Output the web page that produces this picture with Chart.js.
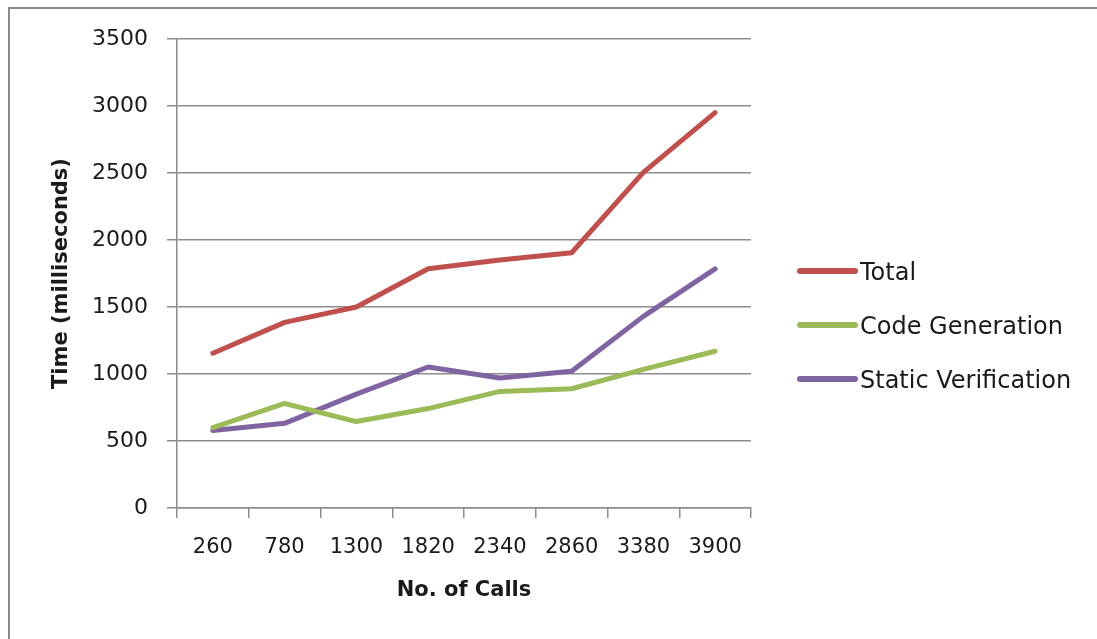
<!DOCTYPE html>
<html>
<head>
<meta charset="utf-8">
<script src="https://cdn.jsdelivr.net/npm/chart.js@4.4.1/dist/chart.umd.min.js"></script>
<style>
  html, body { margin: 0; padding: 0; background: #ffffff; overflow: hidden; }
  #wrap { width: 1097px; height: 639px; position: relative; }
</style>
</head>
<body>
<div id="wrap"><canvas id="chart" width="1097" height="639"></canvas></div>
<script>
// Number of calls per run
const callCounts = ['260', '780', '1300', '1820', '2340', '2860', '3380', '3900'];

// Timings in milliseconds
const totalTime = [1155, 1385, 1500, 1785, 1850, 1905, 2505, 2950];
const codeGenerationTime = [600, 780, 645, 742, 870, 890, 1035, 1170];
const staticVerificationTime = [578, 632, 850, 1052, 970, 1020, 1430, 1785];

// Y axis range
const yMin = 0;
const yMax = 3500;
const yStep = 500;

const seriesNames = ['Total', 'Code Generation', 'Static Verification'];
const seriesColors = ['#C0504D', '#9BBB59', '#8064A2'];

const FONT = "'DejaVu Sans', sans-serif";
const GRID = '#8c8c8c';
const TEXT = '#1a1a1a';

// White page with a thin frame along the top and left edges
const framePlugin = {
  id: 'frame',
  beforeDraw(chart) {
    const ctx = chart.ctx;
    ctx.save();
    ctx.fillStyle = '#ffffff';
    ctx.fillRect(0, 0, chart.width, chart.height);
    ctx.strokeStyle = '#8a8a8a';
    ctx.lineWidth = 2;
    ctx.beginPath();
    ctx.moveTo(9, chart.height);
    ctx.lineTo(9, 8);
    ctx.lineTo(chart.width, 8);
    ctx.stroke();
    ctx.restore();
  }
};

// Legend to the right of the plot: a short thick line sample followed by the label
const sideLegend = {
  id: 'sideLegend',
  afterDraw(chart) {
    const ctx = chart.ctx;
    const area = chart.chartArea;
    const x0 = area.right + 46;
    const x1 = x0 + 61;
    const firstY = 271;
    const gap = 54;
    ctx.save();
    chart.data.datasets.forEach((ds, i) => {
      const y = firstY + i * gap;
      ctx.strokeStyle = ds.borderColor;
      ctx.lineWidth = 6;
      ctx.lineCap = 'round';
      ctx.beginPath();
      ctx.moveTo(x0 + 3, y);
      ctx.lineTo(x1 - 3, y);
      ctx.stroke();
      ctx.fillStyle = TEXT;
      ctx.font = "24px " + FONT;
      ctx.textAlign = 'left';
      ctx.textBaseline = 'alphabetic';
      ctx.fillText(ds.label, x1 + 2, y + 9);
    });
    ctx.restore();
  }
};

const seriesData = [totalTime, codeGenerationTime, staticVerificationTime];

new Chart(document.getElementById('chart'), {
  type: 'line',
  data: {
    labels: callCounts,
    datasets: seriesData.map((values, i) => ({
      label: seriesNames[i],
      data: values,
      borderColor: seriesColors[i],
      backgroundColor: seriesColors[i],
      borderWidth: 5,
      borderJoinStyle: 'round',
      borderCapStyle: 'round',
      pointRadius: 0,
      pointHoverRadius: 0,
      tension: 0,
      fill: false
    }))
  },
  options: {
    responsive: false,
    animation: false,
    devicePixelRatio: 1,
    layout: { padding: { left: 0, top: 39, right: 346, bottom: 0 } },
    plugins: {
      legend: { display: false },
      tooltip: { enabled: false }
    },
    scales: {
      x: {
        type: 'category',
        offset: true,
        grid: {
          offset: true,
          drawOnChartArea: false,
          drawTicks: true,
          tickLength: 10,
          color: GRID,
          lineWidth: 1.5
        },
        border: { display: true, color: GRID, width: 1.5 },
        ticks: {
          color: TEXT,
          font: { family: FONT, size: 21 },
          padding: 17,
          maxRotation: 0,
          autoSkip: false
        },
        title: {
          display: true,
          text: 'No. of Calls',
          color: TEXT,
          font: { family: FONT, size: 21, weight: 'bold' },
          padding: { top: 0, bottom: 36 }
        },
        afterFit(scale) { scale.height = 131; }
      },
      y: {
        min: yMin,
        max: yMax,
        grid: {
          drawTicks: true,
          tickLength: 10,
          color: GRID,
          lineWidth: 1.5
        },
        border: { display: true, color: GRID, width: 1.5 },
        ticks: {
          stepSize: yStep,
          color: TEXT,
          font: { family: FONT, size: 22 },
          padding: 19,
          callback: (value) => String(value)
        },
        title: {
          display: true,
          text: 'Time (milliseconds)',
          color: TEXT,
          font: { family: FONT, size: 21, weight: 'bold' },
          padding: { top: 49, bottom: 0 }
        },
        afterFit(scale) { scale.width = 177; }
      }
    }
  },
  plugins: [framePlugin, sideLegend]
});
</script>
</body>
</html>
